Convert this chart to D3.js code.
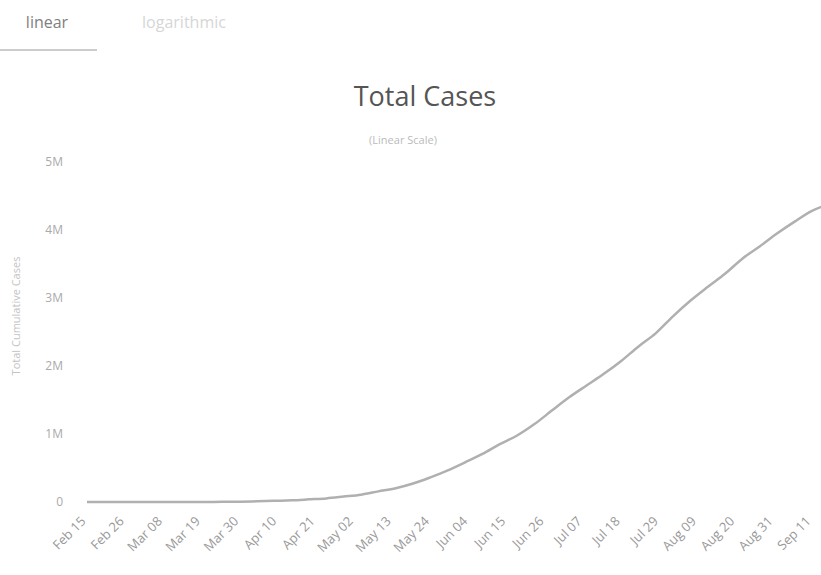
<!doctype html>
<html lang="en">
<head>
  <meta charset="utf-8">
  <title>Total Cases</title>
  <script src="https://cdnjs.cloudflare.com/ajax/libs/d3/7.8.5/d3.min.js"></script>
  <style>
    html, body { margin: 0; padding: 0; background: #fff; }
    body { font-family: "Open Sans", sans-serif; }
    svg { display: block; }
  </style>
</head>
<body>
<div id="chart"></div>

<script>

// tabs above the chart
const tabs = ["linear", "logarithmic"]

// cumulative cases
const days = ["2020-02-15", "2020-02-26", "2020-03-05", "2020-03-10", "2020-03-15", "2020-03-20",
  "2020-03-25", "2020-03-30", "2020-04-04", "2020-04-09", "2020-04-14", "2020-04-19", "2020-04-24",
  "2020-04-29", "2020-05-04", "2020-05-09", "2020-05-14", "2020-05-19", "2020-05-24", "2020-05-29",
  "2020-06-03", "2020-06-08", "2020-06-13", "2020-06-18", "2020-06-23", "2020-06-28", "2020-07-03",
  "2020-07-08", "2020-07-13", "2020-07-18", "2020-07-23", "2020-07-28", "2020-08-02", "2020-08-07",
  "2020-08-12", "2020-08-17", "2020-08-22", "2020-08-27", "2020-09-01", "2020-09-06", "2020-09-11",
  "2020-09-14"]
const cases = [0, 1, 8, 34, 200, 904,
  2433, 4579, 10278, 17857, 25262, 38654, 52995,
  79361, 107780, 155939, 203165, 271628, 363211, 465166,
  584016, 707412, 850514, 978142, 1145906, 1344143, 1539081,
  1713160, 1884967, 2074860, 2287475, 2483191, 2733677, 2962442,
  3164785, 3359570, 3582362, 3761391, 3950931, 4123000, 4282164,
  4345610]

// axis ticks
const xTickLabels = ["Feb 15", "Feb 26", "Mar 08", "Mar 19", "Mar 30", "Apr 10", "Apr 21", "May 02",
  "May 13", "May 24", "Jun 04", "Jun 15", "Jun 26", "Jul 07", "Jul 18", "Jul 29", "Aug 09",
  "Aug 20", "Aug 31", "Sep 11"]
const yTicks = [0, 1e6, 2e6, 3e6, 4e6, 5e6]
const yTickLabels = ["0", "1M", "2M", "3M", "4M", "5M"]

const w = 821, h = 575

const parse = d3.timeParse("%Y-%m-%d")
const data = days.map((d, i) => ({ date: parse(d), value: cases[i] }))
const tickDates = xTickLabels.map(s => d3.timeParse("%b %d %Y")(s + " 2020"))

const svg = d3.select("#chart").append("svg")
  .attr("width", w)
  .attr("height", h)

// tabs
svg.append("text")
  .attr("x", 47).attr("y", 28)
  .attr("text-anchor", "middle")
  .style("font-size", "16px")
  .style("fill", "#808080")
  .text(tabs[0])
svg.append("text")
  .attr("x", 184).attr("y", 28)
  .attr("text-anchor", "middle")
  .style("font-size", "16px")
  .style("fill", "#d6d6d6")
  .text(tabs[1])
svg.append("line")
  .attr("x1", 0).attr("x2", 97)
  .attr("y1", 50).attr("y2", 50)
  .style("stroke", "#bbb")
  .style("stroke-width", 1.5)

// titles
svg.append("text")
  .attr("x", 425).attr("y", 106)
  .attr("text-anchor", "middle")
  .style("font-size", "27px")
  .style("fill", "#555")
  .text("Total Cases")
svg.append("text")
  .attr("x", 403).attr("y", 144)
  .attr("text-anchor", "middle")
  .style("font-size", "11px")
  .style("fill", "#bbb")
  .text("(Linear Scale)")

// scales
const x = d3.scaleTime()
  .domain([tickDates[0], tickDates[tickDates.length - 1]])
  .range([87, 812])

const y = d3.scaleLinear()
  .domain([0, 5e6])
  .range([502, 162])

// y axis
const yAxis = svg.append("g")
  .attr("transform", "translate(71,0)")
  .call(d3.axisLeft(y).tickValues(yTicks).tickFormat((d, i) => yTickLabels[i]).tickSize(0).tickPadding(8))
yAxis.select(".domain").remove()
yAxis.selectAll("text")
  .style("font-family", "Open Sans")
  .style("font-size", "12px")
  .style("fill", "#aaa")

svg.append("text")
  .attr("transform", "translate(20,316) rotate(-90)")
  .attr("text-anchor", "middle")
  .style("font-size", "11px")
  .style("fill", "#c4c4c4")
  .text("Total Cumulative Cases")

// x axis
const xAxis = svg.append("g")
  .attr("transform", "translate(0,512)")
  .call(d3.axisBottom(x).tickValues(tickDates).tickFormat((d, i) => xTickLabels[i]).tickSize(0).tickPadding(0))
xAxis.select(".domain").remove()
xAxis.selectAll("text")
  .style("font-family", "Open Sans")
  .style("font-size", "13px")
  .style("fill", "#999")
  .style("text-anchor", "end")
  .attr("y", 0)
  .attr("dx", "-.6em")
  .attr("dy", ".5em")
  .attr("transform", "rotate(-45)")

// line
const line = d3.line()
  .x(d => x(d.date))
  .y(d => y(d.value))
  .curve(d3.curveMonotoneX)

svg.append("path")
  .datum(data)
  .attr("fill", "none")
  .attr("stroke", "#b0b0b0")
  .attr("stroke-width", 2.5)
  .attr("d", line)

</script>
</body>
</html>
